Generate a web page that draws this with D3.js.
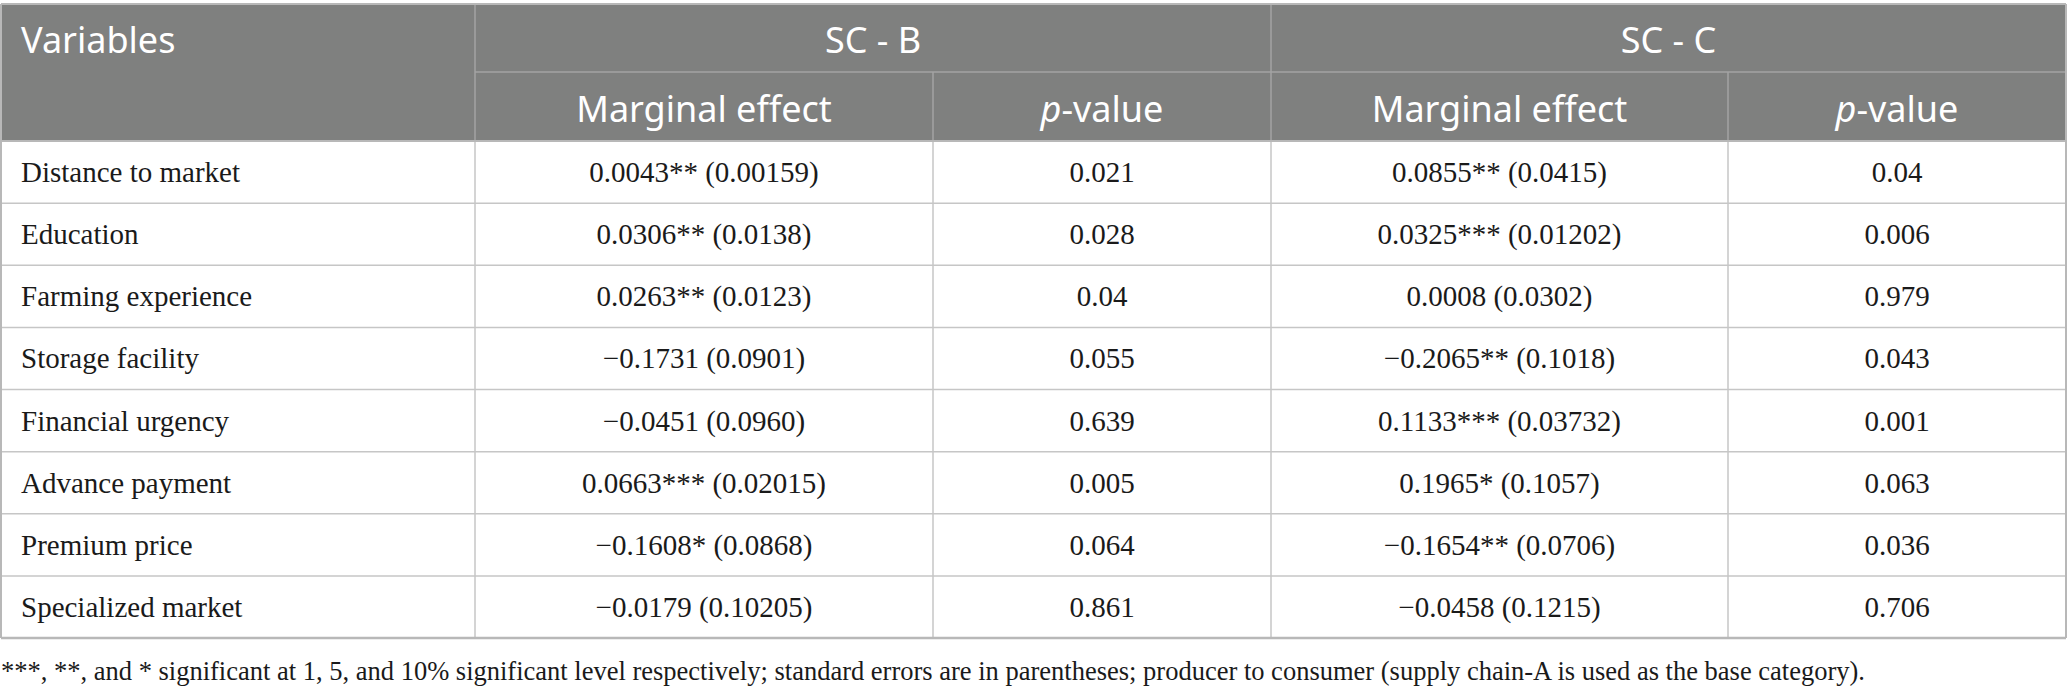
<!DOCTYPE html>
<html>
<head>
<meta charset="utf-8">
<script src="https://cdn.jsdelivr.net/npm/d3@7"></script>
<style>
  html, body { margin: 0; padding: 0; background: #ffffff; }
  svg { display: block; }
</style>
</head>
<body>
<svg id="chart" width="2067" height="692"></svg>
<script>
// ---- data ----
const variables = ["Distance to market", "Education", "Farming experience", "Storage facility",
  "Financial urgency", "Advance payment", "Premium price", "Specialized market"];
const scbMarginal = ["0.0043** (0.00159)", "0.0306** (0.0138)", "0.0263** (0.0123)", "\u22120.1731 (0.0901)",
  "\u22120.0451 (0.0960)", "0.0663*** (0.02015)", "\u22120.1608* (0.0868)", "\u22120.0179 (0.10205)"];
const scbP = ["0.021", "0.028", "0.04", "0.055", "0.639", "0.005", "0.064", "0.861"];
const sccMarginal = ["0.0855** (0.0415)", "0.0325*** (0.01202)", "0.0008 (0.0302)", "\u22120.2065** (0.1018)",
  "0.1133*** (0.03732)", "0.1965* (0.1057)", "\u22120.1654** (0.0706)", "\u22120.0458 (0.1215)"];
const sccP = ["0.04", "0.006", "0.979", "0.043", "0.001", "0.063", "0.036", "0.706"];
const groupHeaders = ["SC - B", "SC - C"];
const subHeaders = ["Marginal effect", "p-value", "Marginal effect", "p-value"];
const firstHeader = "Variables";
const footnote = "***, **, and * significant at 1, 5, and 10% significant level respectively; standard errors are in parentheses; producer to consumer (supply chain-A is used as the base category).";

// ---- layout ----
const svg = d3.select("#chart");
const colEdges = [1, 475, 933, 1271, 1728, 2066];
const tableTop = 4, hMid = 72, hBottom = 141, tableBottom = 638;
const headerBg = "#7f807f", headerLine = "#a3a3a3", gridLine = "#c6c6c6", borderLine = "#b8b8b8";
const serif = "'Liberation Serif', 'Times New Roman', serif";
const sans = "'Noto Sans', 'Open Sans', sans-serif";

const y = d3.scaleBand().domain(variables).range([hBottom, tableBottom]).paddingInner(0).paddingOuter(0);
const colCenter = i => (colEdges[i] + colEdges[i + 1]) / 2;

// header background
svg.append("rect").attr("x", colEdges[0]).attr("y", tableTop)
  .attr("width", colEdges[5] - colEdges[0]).attr("height", hBottom - tableTop).attr("fill", headerBg);

// header lines
svg.append("line").attr("x1", colEdges[1]).attr("x2", colEdges[5]).attr("y1", hMid).attr("y2", hMid)
  .attr("stroke", headerLine).attr("stroke-width", 1.5);
svg.append("line").attr("x1", colEdges[1]).attr("x2", colEdges[1]).attr("y1", tableTop).attr("y2", hBottom)
  .attr("stroke", headerLine).attr("stroke-width", 1.5);
svg.append("line").attr("x1", colEdges[3]).attr("x2", colEdges[3]).attr("y1", tableTop).attr("y2", hBottom)
  .attr("stroke", headerLine).attr("stroke-width", 1.5);
[2, 4].forEach(i => {
  svg.append("line").attr("x1", colEdges[i]).attr("x2", colEdges[i]).attr("y1", hMid).attr("y2", hBottom)
    .attr("stroke", headerLine).attr("stroke-width", 1.5);
});

// body grid: horizontal lines
svg.selectAll("line.row").data(variables.slice(1)).enter().append("line")
  .attr("class", "row")
  .attr("x1", colEdges[0]).attr("x2", colEdges[5])
  .attr("y1", d => y(d)).attr("y2", d => y(d))
  .attr("stroke", gridLine).attr("stroke-width", 1.5);
// vertical lines in body
svg.selectAll("line.col").data(colEdges.slice(1, 5)).enter().append("line")
  .attr("class", "col")
  .attr("x1", d => d).attr("x2", d => d)
  .attr("y1", hBottom).attr("y2", tableBottom)
  .attr("stroke", gridLine).attr("stroke-width", 1.5);
// outer border
svg.append("line").attr("x1", colEdges[0]).attr("x2", colEdges[5]).attr("y1", tableTop).attr("y2", tableTop)
  .attr("stroke", borderLine).attr("stroke-width", 2);
svg.append("line").attr("x1", colEdges[0]).attr("x2", colEdges[5]).attr("y1", hBottom).attr("y2", hBottom)
  .attr("stroke", borderLine).attr("stroke-width", 2);
svg.append("line").attr("x1", colEdges[0]).attr("x2", colEdges[5]).attr("y1", tableBottom).attr("y2", tableBottom)
  .attr("stroke", borderLine).attr("stroke-width", 2.5);
svg.append("line").attr("x1", colEdges[0]).attr("x2", colEdges[0]).attr("y1", tableTop).attr("y2", tableBottom)
  .attr("stroke", borderLine).attr("stroke-width", 2);
svg.append("line").attr("x1", colEdges[5]).attr("x2", colEdges[5]).attr("y1", tableTop).attr("y2", tableBottom)
  .attr("stroke", borderLine).attr("stroke-width", 2);

// header text
const headerSize = 36;
svg.append("text").attr("x", 21).attr("y", 53).attr("fill", "#ffffff")
  .attr("font-family", sans).attr("font-size", headerSize).text(firstHeader);
groupHeaders.forEach((g, i) => {
  svg.append("text").attr("x", (colEdges[1 + 2 * i] + colEdges[3 + 2 * i]) / 2).attr("y", 53)
    .attr("text-anchor", "middle").attr("fill", "#ffffff")
    .attr("font-family", sans).attr("font-size", headerSize).text(g);
});
subHeaders.forEach((s, i) => {
  const t = svg.append("text").attr("x", colCenter(i + 1)).attr("y", 122)
    .attr("text-anchor", "middle").attr("fill", "#ffffff")
    .attr("font-family", sans).attr("font-size", headerSize);
  if (s.startsWith("p-")) {
    t.append("tspan").attr("font-style", "italic").text("p");
    t.append("tspan").text(s.slice(1));
  } else {
    t.text(s);
  }
});

// body text
const columns = [variables, scbMarginal, scbP, sccMarginal, sccP];
columns.forEach((col, ci) => {
  svg.selectAll("text.c" + ci).data(col).enter().append("text")
    .attr("class", "c" + ci)
    .attr("x", ci === 0 ? 21 : colCenter(ci))
    .attr("y", (d, i) => y(variables[i]) + y.bandwidth() / 2 + 10)
    .attr("text-anchor", ci === 0 ? "start" : "middle")
    .attr("fill", "#1a1a1a")
    .attr("font-family", serif).attr("font-size", 29)
    .text(d => d);
});

// footnote
svg.append("text").attr("x", 1).attr("y", 680).attr("fill", "#1a1a1a")
  .attr("font-family", serif).attr("font-size", 26.5).text(footnote);
</script>
</body>
</html>
